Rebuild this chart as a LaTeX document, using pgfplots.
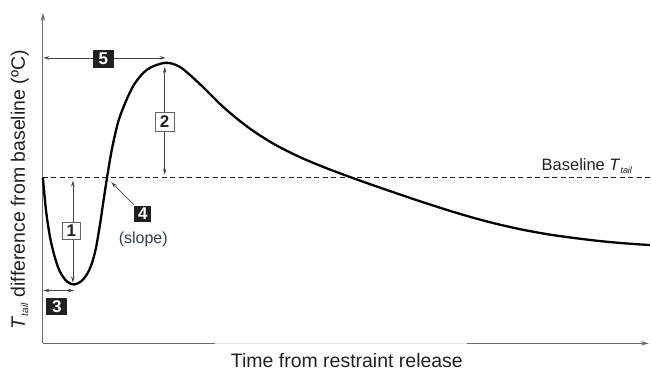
\documentclass[border=0pt]{standalone}
\usepackage{pgfplots}
\pgfplotsset{compat=1.18}
\usepackage{fontspec}
\setmainfont{Liberation Sans}
\usetikzlibrary{arrows.meta}
\definecolor{txt}{HTML}{231F20}
\definecolor{slopec}{HTML}{2A3C58}
\definecolor{axc}{HTML}{6A6A6A}
\begin{document}
\begin{tikzpicture}
\begin{axis}[
  scale only axis, width=607pt, height=331pt,
  xmin=43, xmax=650, ymin=27, ymax=358,
  axis lines=left,
  axis line style={draw=axc, line width=1.1pt, -{Stealth[length=8pt,width=4.5pt]}},
  xtick=\empty, ytick=\empty,
  clip=false,
]
\path (axis cs:0,0) rectangle (axis cs:651,371);
% baseline
\addplot[txt, line width=0.8pt, dash pattern=on 5pt off 3.5pt] coordinates {(43,193) (651,193)};
% curve (y = 371 - pixel row)
\addplot[black, line width=2.3pt, smooth, tension=0.5] coordinates {
(43,193) (46,161) (50,134) (55,113) (60,99) (67,89) (74,86) (81,89) (87,96) (92,107) (96,122) (100,145) (104,172) (108,198) (113,226) (120,254) (133,284) (147,301) (165,308) (180,304.1) (200,287) (225,262.6) (250,242.4) (275,226.4) (300,213.8) (325,203.3) (350,193.9) (375,185) (400,176.4) (425,168) (450,160) (475,152.6) (500,146.1) (525,140.6) (550,136.1) (575,132.6) (600,129.6) (625,127.3) (651,125.5)};
% white veil under x label
\fill[white, opacity=0.85] (axis cs:215,25) rectangle (axis cs:468,29.5);
% annotations
\tikzset{arr/.style={txt!85, line width=0.7pt, {Stealth[length=6pt,width=3.5pt]}-{Stealth[length=6pt,width=3.5pt]}},
  bbox/.style={fill=txt, text=white, font=\fontsize{17}{17}\selectfont\bfseries, inner sep=0pt, minimum width=21pt, minimum height=18pt},
  wbox/.style={fill=white, draw=txt!70, line width=0.9pt, text=txt, font=\fontsize{17}{17}\selectfont\bfseries, inner sep=0pt, minimum width=18pt, minimum height=17pt}}
\draw[arr] (axis cs:43.5,313) -- (axis cs:166,313);
\node[bbox, minimum width=21pt, minimum height=18pt] at (axis cs:103.5,312) {5};
\draw[arr] (axis cs:43.5,80) -- (axis cs:74,80);
\node[bbox, minimum width=21pt, minimum height=17pt] at (axis cs:57,63.5) {3};
\draw[arr] (axis cs:73,190) -- (axis cs:73,88);
\node[wbox] at (axis cs:71.5,140) {1};
\draw[arr] (axis cs:165,304) -- (axis cs:165,196);
\node[wbox, minimum width=19pt, minimum height=19pt] at (axis cs:165,249) {2};
\draw[txt!85, line width=0.7pt, -{Stealth[length=6pt,width=3.5pt]}] (axis cs:134,166) -- (axis cs:111.5,188.5);
\node[bbox, minimum width=17pt, minimum height=16pt] at (axis cs:143,157) {4};
\node[text=slopec, font=\fontsize{16}{16}\selectfont, inner sep=0pt] at (axis cs:143.5,131) {(slope)};
\node[text=txt, font=\fontsize{16.5}{16.5}\selectfont, anchor=base east, inner sep=0pt] at (axis cs:634,200) {Baseline \textit{T}\textsubscript{\textit{\fontsize{9}{9}\selectfont tail}}};
\node[text=txt, font=\fontsize{19.5}{19.5}\selectfont, anchor=base, inner sep=0pt] at (axis cs:347.5,3) {Time from restraint release};
\node[text=txt, font=\fontsize{19.5}{19.5}\selectfont, anchor=base, inner sep=0pt, rotate=90] at (axis cs:25,181) {\textit{T}\textsubscript{\textit{\fontsize{10}{10}\selectfont tail}} difference from baseline (ºC)};
\end{axis}
\end{tikzpicture}
\end{document}
